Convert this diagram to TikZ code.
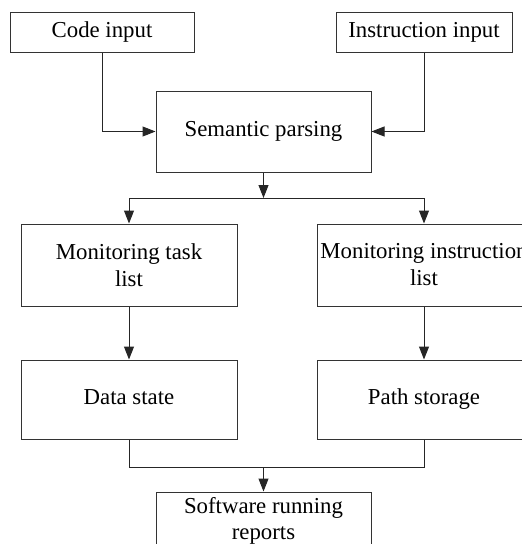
\documentclass[tikz,border=0pt]{standalone}
\usepackage{fontspec}
\setmainfont{Liberation Serif}
\usetikzlibrary{arrows.meta}
\begin{document}
\begin{tikzpicture}[x=1pt,y=-1pt,
  box/.style={draw=black!80, line width=1pt, align=center, inner sep=0pt,
    font=\fontsize{22.8}{27}\selectfont, text=black},
  arr/.style={-{Triangle[length=13pt,width=10pt]}, line width=1pt, draw=black!85},
  ln/.style={line width=1pt, draw=black!85}]
\useasboundingbox (0,0) rectangle (522,544);
\clip (0,0) rectangle (522,544);
\node[box, minimum width=184pt, minimum height=40pt] (code) at (102,32) {\strut Code input};
\node[box, minimum width=176pt, minimum height=40pt] (inst) at (424,32) {\strut Instruction input};
\node[box, minimum width=215pt, minimum height=81pt] (sem) at (263.5,131.5) {\strut Semantic parsing};
\node[box, minimum width=216pt, minimum height=82pt] (task) at (129,265) {Monitoring task\\list};
\node[box, minimum width=214pt, minimum height=82pt] (ilist) at (424,265) {Monitoring instruction\\list};
\node[box, minimum width=216pt, minimum height=79pt] (data) at (129,399.5) {\strut Data state};
\node[box, minimum width=214pt, minimum height=79pt] (path) at (424,399.5) {\strut Path storage};
\node[box, font=\fontsize{22.8}{26}\selectfont, minimum width=215pt, minimum height=58pt] (soft) at (263.5,521) {Software running\\reports};
\coordinate (j1) at (263.5,198);
\coordinate (j2) at (263.5,467);
\draw[arr] (code) |- (sem);
\draw[arr] (inst) |- (sem);
\draw[arr] (sem) -- (j1);
\draw[arr] (j1) -| (task);
\draw[arr] (j1) -| (ilist);
\draw[arr] (task) -- (data);
\draw[arr] (ilist) -- (path);
\draw[ln] (data) |- (j2);
\draw[ln] (path) |- (j2);
\draw[arr] (j2) -- (soft);
\end{tikzpicture}
\end{document}
